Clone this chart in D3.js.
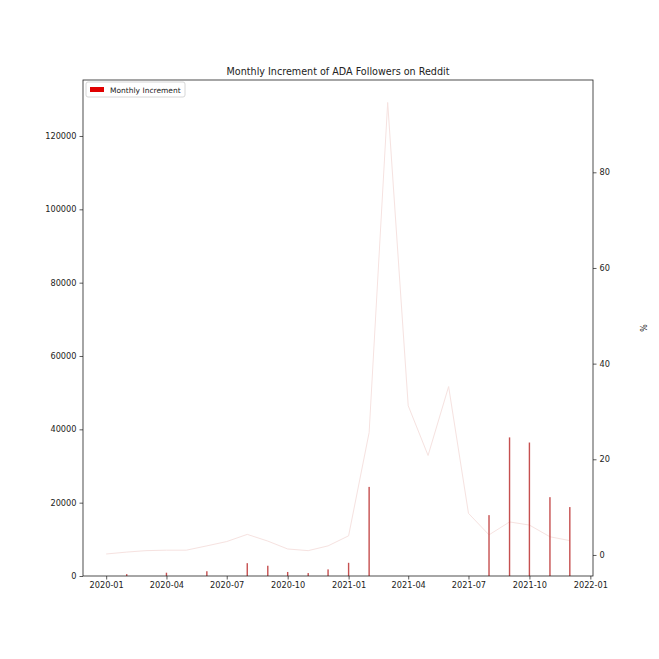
<!DOCTYPE html>
<html>
<head>
<meta charset="utf-8">
<script src="https://cdn.jsdelivr.net/npm/d3@7"></script>
<style>
  body { margin: 0; background: #fff; }
  svg text { font-family: "DejaVu Sans", sans-serif; fill: #222; }
</style>
</head>
<body>
<div id="chart"></div>
<script>
  var months = ['2020-01', '2020-02', '2020-03', '2020-04', '2020-05', '2020-06',
                '2020-07', '2020-08', '2020-09', '2020-10', '2020-11', '2020-12',
                '2021-01', '2021-02', '2021-03', '2021-04', '2021-05', '2021-06',
                '2021-07', '2021-08', '2021-09', '2021-10', '2021-11', '2021-12'];
  // monthly follower increment (left axis)
  var increments = [0, 500, 0, 900, 0, 1300, 0, 3500, 2800, 1100, 800, 1800,
                    3600, 24300, null, null, null, null, null, 16600, 37800,
                    36400, 21500, 18800];
  // monthly growth in % (right axis)
  var growthPct = [0.2, 0.6, 0.9, 1.0, 1.0, 1.9, 2.8, 4.3, 2.9, 1.25, 0.9, 1.9,
                   4.0, 25.6, 94.6, 31.2, 20.8, 35.2, 8.7, 4.2, 6.9, 6.25, 3.8, 3.0];
  var leftTicks = [0, 20000, 40000, 60000, 80000, 100000, 120000];
  var rightTicks = [0, 20, 40, 60, 80];
  var xTickDates = ['2020-01', '2020-04', '2020-07', '2020-10', '2021-01',
                    '2021-04', '2021-07', '2021-10', '2022-01'];

  var W = 659, H = 659;
  var m = {left: 83, right: 593, top: 80, bottom: 576};
  var parse = d3.timeParse('%Y-%m');

  var svg = d3.select('#chart').append('svg')
    .attr('width', W).attr('height', H);

  var x = d3.scaleTime()
    .domain([new Date(2019, 10, 27), new Date(2022, 0, 5)])
    .range([m.left, m.right]);
  var yL = d3.scaleLinear().domain([0, 135270]).range([m.bottom, m.top]);
  var yR = d3.scaleLinear().domain([-4.4, 99.3]).range([m.bottom, m.top]);

  var data = months.map(function(mo, i) {
    return {date: parse(mo), inc: increments[i], pct: growthPct[i]};
  });

  // growth line, very faint
  var line = d3.line()
    .x(function(d) { return x(d.date); })
    .y(function(d) { return yR(d.pct); });
  svg.append('path')
    .datum(data)
    .attr('d', line)
    .attr('fill', 'none')
    .attr('stroke', '#f6e2e0')
    .attr('stroke-width', 1);

  // bars
  svg.selectAll('rect.bar')
    .data(data.filter(function(d) { return d.inc != null && d.inc > 0; }))
    .enter().append('rect')
    .attr('class', 'bar')
    .attr('x', function(d) { return x(d.date) - 0.7; })
    .attr('y', function(d) { return yL(d.inc); })
    .attr('width', 1.4)
    .attr('height', function(d) { return yL(0) - yL(d.inc); })
    .style('fill', '#c65050');

  // axes
  var fmt = d3.timeFormat('%Y-%m');
  var xAxis = d3.axisBottom(x)
    .tickValues(xTickDates.map(parse))
    .tickFormat(fmt).tickSize(3.5).tickPadding(3);
  var gx = svg.append('g')
    .attr('transform', 'translate(0,' + m.bottom + ')')
    .call(xAxis);

  var gl = svg.append('g')
    .attr('transform', 'translate(' + m.left + ',0)')
    .call(d3.axisLeft(yL).tickValues(leftTicks)
      .tickFormat(d3.format('d')).tickSize(3.5).tickPadding(3));

  var gr = svg.append('g')
    .attr('transform', 'translate(' + m.right + ',0)')
    .call(d3.axisRight(yR).tickValues(rightTicks)
      .tickFormat(d3.format('d')).tickSize(3.5).tickPadding(3));

  [gx, gl, gr].forEach(function(g) {
    g.select('.domain').remove();
    g.selectAll('text').style('font-size', '8.2px');
    g.selectAll('line').attr('stroke', '#333').attr('stroke-width', 0.8);
  });

  // frame
  svg.append('rect')
    .attr('x', m.left).attr('y', m.top)
    .attr('width', m.right - m.left).attr('height', m.bottom - m.top)
    .attr('fill', 'none').attr('stroke', '#222').attr('stroke-width', 0.8);

  svg.append('text')
    .attr('x', (m.left + m.right) / 2).attr('y', m.top - 5)
    .attr('text-anchor', 'middle')
    .style('font-size', '9.6px')
    .text('Monthly Increment of ADA Followers on Reddit');

  svg.append('text')
    .attr('transform', 'translate(640,' + ((m.top + m.bottom) / 2) + ') rotate(90)')
    .attr('text-anchor', 'middle')
    .style('font-size', '8px')
    .text('%');

  // legend
  var lg = svg.append('g').attr('transform', 'translate(86,82)');
  lg.append('rect')
    .attr('width', 99).attr('height', 15).attr('rx', 2)
    .attr('fill', '#fff').attr('stroke', '#ccc').attr('stroke-width', 0.8);
  lg.append('rect')
    .attr('x', 4).attr('y', 5).attr('width', 14).attr('height', 5)
    .attr('fill', '#e00000');
  lg.append('text')
    .attr('x', 24).attr('y', 10.5)
    .style('font-size', '7.5px')
    .text('Monthly Increment');
</script>
</body>
</html>
